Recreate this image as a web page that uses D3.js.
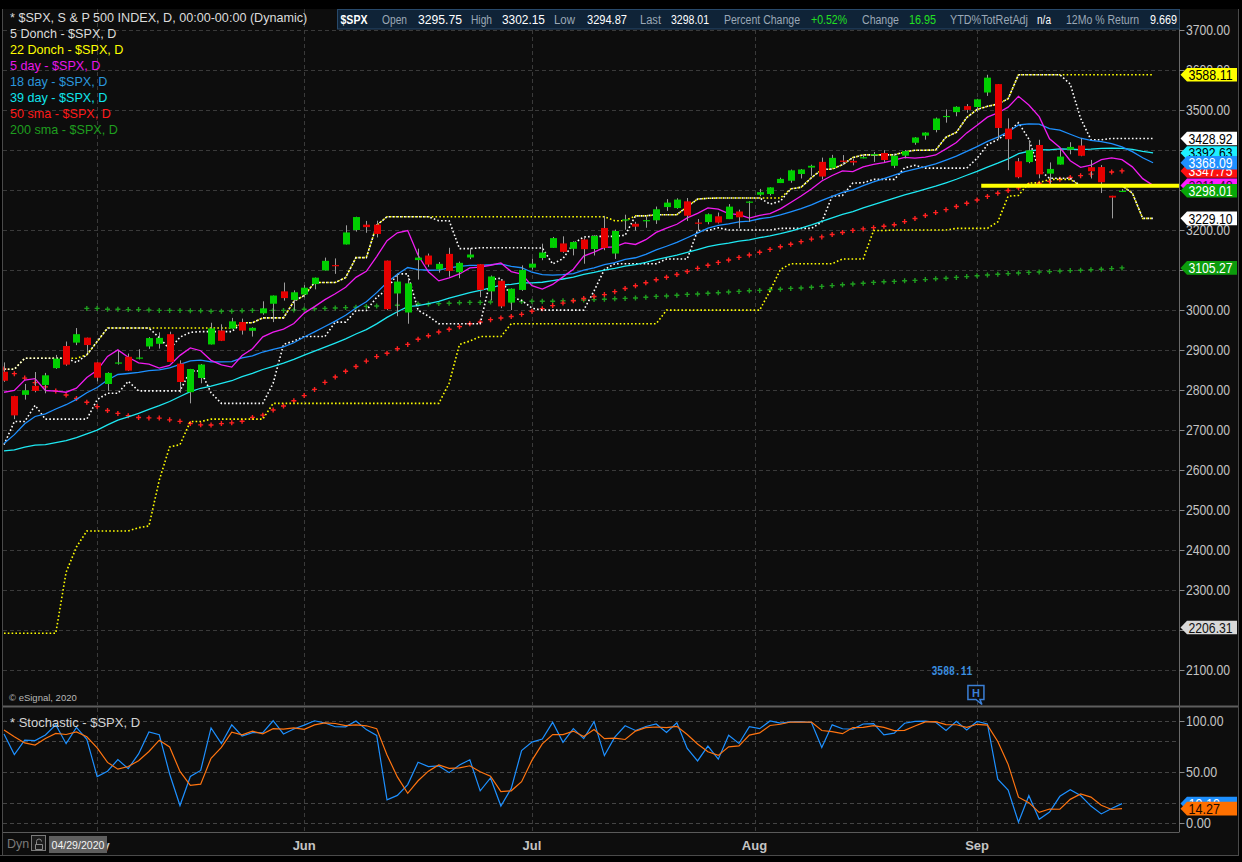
<!DOCTYPE html>
<html><head><meta charset="utf-8"><title>$SPX daily</title>
<script src="https://cdn.jsdelivr.net/npm/d3@7"></script>
<style>html,body{margin:0;padding:0;background:#000;overflow:hidden}svg{display:block}</style>
</head><body><svg id="chart" width="1242" height="862"></svg>
<script>
// ---------------- DATA ----------------
const dates = [
"2020-04-20","2020-04-21","2020-04-22","2020-04-23","2020-04-24","2020-04-27","2020-04-28","2020-04-29","2020-04-30",
"2020-05-01","2020-05-04","2020-05-05","2020-05-06","2020-05-07","2020-05-08","2020-05-11","2020-05-12","2020-05-13","2020-05-14","2020-05-15","2020-05-18","2020-05-19","2020-05-20","2020-05-21","2020-05-22","2020-05-26","2020-05-27","2020-05-28","2020-05-29",
"2020-06-01","2020-06-02","2020-06-03","2020-06-04","2020-06-05","2020-06-08","2020-06-09","2020-06-10","2020-06-11","2020-06-12","2020-06-15","2020-06-16","2020-06-17","2020-06-18","2020-06-19","2020-06-22","2020-06-23","2020-06-24","2020-06-25","2020-06-26","2020-06-29","2020-06-30",
"2020-07-01","2020-07-02","2020-07-06","2020-07-07","2020-07-08","2020-07-09","2020-07-10","2020-07-13","2020-07-14","2020-07-15","2020-07-16","2020-07-17","2020-07-20","2020-07-21","2020-07-22","2020-07-23","2020-07-24","2020-07-27","2020-07-28","2020-07-29","2020-07-30","2020-07-31",
"2020-08-03","2020-08-04","2020-08-05","2020-08-06","2020-08-07","2020-08-10","2020-08-11","2020-08-12","2020-08-13","2020-08-14","2020-08-17","2020-08-18","2020-08-19","2020-08-20","2020-08-21","2020-08-24","2020-08-25","2020-08-26","2020-08-27","2020-08-28","2020-08-31",
"2020-09-01","2020-09-02","2020-09-03","2020-09-04","2020-09-08","2020-09-09","2020-09-10","2020-09-11","2020-09-14","2020-09-15","2020-09-16","2020-09-17","2020-09-18","2020-09-21","2020-09-22"];

const opens = [
2845.62,2784.81,2787.89,2810.42,2812.64,2854.65,2909.96,2918.46,2930.91,
2869.09,2815.01,2868.88,2883.14,2878.26,2908.83,2915.46,2939.50,2865.86,2794.54,2829.95,2913.86,2948.59,2953.63,2969.95,2948.05,3004.08,3015.65,3046.61,3025.17,
3038.78,3064.78,3098.90,3111.56,3163.84,3199.92,3213.32,3213.42,3123.53,3071.04,2993.76,3131.00,3136.13,3101.64,3140.29,3094.42,3138.70,3114.40,3046.60,3073.20,3018.59,3050.20,
3105.92,3143.64,3155.29,3166.44,3153.07,3176.17,3152.47,3205.08,3141.11,3225.98,3208.36,3224.21,3224.29,3268.52,3254.86,3271.64,3218.58,3219.84,3234.27,3227.22,3231.76,3270.45,
3288.26,3289.92,3317.37,3323.17,3340.05,3356.04,3370.34,3355.46,3372.95,3368.66,3380.86,3387.04,3392.51,3360.48,3386.01,3418.09,3435.95,3449.97,3485.14,3494.69,3509.73,
3507.44,3543.76,3564.74,3453.60,3371.88,3369.82,3412.56,3352.70,3363.56,3407.73,3411.23,3346.86,3357.38,3285.57,3295.75];

const highs = [
2868.98,2785.54,2815.10,2844.90,2842.71,2887.72,2921.15,2954.86,2930.91,
2869.09,2844.24,2898.23,2891.11,2901.92,2932.16,2944.25,2945.82,2874.14,2852.80,2865.01,2968.09,2964.21,2980.29,2978.50,2956.76,3021.72,3036.25,3068.67,3049.17,
3062.18,3081.07,3130.94,3128.91,3211.72,3233.13,3222.71,3223.27,3123.53,3088.42,3079.76,3153.45,3141.16,3120.00,3155.53,3120.92,3154.90,3115.01,3086.25,3073.73,3053.89,3111.51,
3128.44,3165.81,3182.59,3184.15,3171.80,3179.78,3186.82,3235.32,3200.95,3238.28,3220.39,3233.52,3258.61,3277.29,3279.32,3279.99,3227.26,3241.43,3243.72,3264.74,3250.92,3272.17,
3302.73,3306.84,3330.77,3351.03,3352.54,3363.29,3381.01,3387.89,3387.24,3378.51,3387.59,3395.06,3399.54,3390.80,3399.96,3432.09,3444.21,3481.07,3501.38,3509.23,3514.77,
3528.03,3588.11,3564.85,3479.15,3379.97,3424.77,3425.55,3368.95,3402.93,3419.48,3428.92,3375.17,3362.27,3285.57,3302.15];

const lows = [
2820.43,2727.10,2775.95,2794.26,2791.76,2852.89,2860.71,2912.16,2892.47,
2821.61,2797.85,2863.55,2847.65,2876.48,2902.88,2903.44,2869.59,2793.15,2766.64,2816.78,2913.86,2922.35,2953.63,2938.57,2933.59,2988.17,2969.75,3023.40,2998.61,
3031.54,3051.64,3098.90,3090.41,3163.84,3196.00,3193.11,3181.49,2999.49,2984.47,2965.66,3076.06,3108.03,3093.51,3083.11,3079.39,3127.12,3032.13,3024.01,3004.63,2999.74,3047.83,
3101.17,3124.52,3155.29,3142.93,3136.53,3115.70,3136.22,3149.43,3127.66,3200.76,3198.59,3205.65,3215.16,3247.77,3253.10,3222.66,3200.05,3214.25,3216.17,3227.22,3204.13,3220.26,
3284.53,3286.37,3317.37,3318.14,3328.72,3335.44,3326.44,3355.46,3363.35,3361.64,3379.22,3370.15,3369.66,3354.69,3379.31,3413.13,3425.84,3444.15,3468.35,3484.32,3493.25,
3494.60,3535.23,3427.41,3349.63,3329.27,3366.84,3329.25,3310.47,3363.56,3389.25,3384.45,3328.82,3292.40,3229.10,3294.87];

const closes = [
2823.16,2736.56,2799.31,2797.80,2836.74,2878.48,2863.39,2939.51,2912.43,
2830.71,2842.74,2868.44,2848.42,2881.19,2929.80,2930.32,2870.12,2820.00,2852.50,2863.70,2953.91,2922.94,2971.61,2948.51,2955.45,2991.77,3036.13,3029.73,3044.31,
3055.73,3080.82,3122.87,3112.35,3193.93,3232.39,3207.18,3190.14,3002.10,3041.31,3066.59,3124.74,3113.49,3115.34,3097.74,3117.86,3131.29,3050.33,3083.76,3009.05,3053.24,3100.29,
3115.86,3130.01,3179.72,3145.32,3169.94,3152.05,3185.04,3155.22,3197.52,3226.56,3215.57,3224.73,3251.84,3257.30,3276.02,3235.66,3215.63,3239.41,3218.44,3258.44,3246.22,3271.12,
3294.61,3306.51,3327.77,3349.16,3351.28,3360.47,3333.69,3380.35,3373.43,3372.85,3381.99,3389.78,3374.85,3385.51,3397.16,3431.28,3443.62,3478.73,3484.55,3508.01,3500.31,
3526.65,3580.84,3455.06,3426.96,3331.84,3398.96,3339.19,3340.97,3383.54,3401.20,3385.49,3357.01,3319.47,3281.06,3298.01];

// bars before the visible window (needed by the indicators' look-back)
const preCloses = [ // 2020-02-07 .. 2020-04-17
3327.71,3352.09,3357.75,3379.45,3373.94,3380.16,3370.29,3386.15,3373.23,3337.75,3225.89,3128.21,3116.39,2978.76,2954.22,
3090.23,3003.37,3130.12,3023.94,2972.37,2746.56,2882.23,2741.38,2480.64,2711.02,2386.13,2529.19,2398.10,2409.39,2304.92,2237.40,2447.33,2475.56,2630.07,2541.47,2626.65,2584.59,
2470.50,2526.90,2488.65,2663.68,2659.41,2749.98,2789.82,2761.63,2846.06,2783.36,2799.55,2874.56];
const preHighs = [ // 2020-03-16 .. 2020-04-17
2562.98,2553.93,2453.57,2466.97,2453.01,2300.73,2449.71,2571.42,2637.01,2615.91,2631.80,2641.39,
2522.75,2533.22,2538.18,2676.85,2756.89,2760.75,2818.57,2782.46,2851.85,2801.88,2806.51,2879.22];
const preLows = [
2380.94,2367.04,2280.52,2319.78,2295.56,2191.86,2344.44,2407.53,2500.72,2520.02,2545.28,2571.15,
2447.49,2455.79,2459.96,2574.57,2657.67,2663.30,2762.36,2721.17,2805.10,2761.54,2764.32,2830.88];

// 200-day SMA (first plotted on 2020-04-30)
const sma200Start = "2020-04-30";
const sma200 = [
3004,3004,3002,3002,3001,3001,3000,2999,2999,2999,2998,2998,2997,2997,2997,2998,2999,2999,2999,2999,
3000,3002,3003,3004,3005,3006,3007,3009,3010,3011,3012,3013,3015,3015,3016,3017,3018,3019,3019,3020,
3020,3021,3021,3022,3022,3022,3023,3024,3025,3026,3027,3028,3029,3030,3032,3034,3035,3037,3039,3040,
3042,3043,3045,3046.5,3048,3049,3050.5,3052,3054,3055,3057,3059,3061,3063,3065,3067,3069,3070.5,3071.5,3073,
3074,3076,3078,3079.5,3081.5,3083.5,3085.5,3087.5,3089.5,3091,3092.5,3094,3095,3096,3097.5,3098.5,3099.5,3100.5,3102,3103.5,3105.27];

const priceTicks = [3700,3600,3500,3400,3300,3200,3100,3000,2900,2800,2700,2600,2500,2400,2300,2200,2100];
const stochLabelTicks = [100,50,0];
const stochGridTicks = [100,80,50,20,0];
const monthNames = ["Jan","Feb","Mar","Apr","May","Jun","Jul","Aug","Sep","Oct","Nov","Dec"];

const legendTexts = ["* $SPX, S & P 500 INDEX, D, 00:00-00:00 (Dynamic)","5 Donch - $SPX, D","22 Donch - $SPX, D","5 day - $SPX, D","18 day - $SPX, D","39 day - $SPX, D","50 sma - $SPX, D","200 sma - $SPX, D"];
const headerLabels = ["Open","High","Low","Last","Percent Change","Change","YTD%TotRetAdj","12Mo % Return"];
const headerValues = ["3295.75","3302.15","3294.87","3298.01","+0.52%","16.95","n/a","9.669"];
const tagValues = {h22:3588.11, h5:3428.92, w39:3392.63, w18:3368.09, sma50:3347.75, w5:3311.48, last:3298.01, l22:3229.10, sma200:3105.27, low:2206.31};
const stochTagValues = {k:19.19, d:14.27};
const supportLine = {price:3310.47, from:"2020-09-01"};
const highMarker = {value:"3588.11", date:"2020-09-02"};
const cursorDate = "04/29/2020";

// ---------------- SETUP ----------------
const FONT = '"Liberation Sans", Arial, Helvetica, sans-serif';
const svg = d3.select("#chart").style("font-family", FONT);
const N = dates.length, SHIFT = 3, NOUT = N + SHIFT;
const PL = 3, PR = 1179.5, MT = 9, MB = 705, ST = 708, SB = 832;

const x = d3.scaleLinear().domain([0, N - 1]).range([4, 1122]);
const y = d3.scaleLinear().domain([2100, 3700]).range([670, 30]);
const ys = d3.scaleLinear().domain([0, 100]).range([823.3, 720.7]);

const NP = preCloses.length, NH = preHighs.length;
const allC = preCloses.concat(closes), allH = preHighs.concat(highs), allL = preLows.concat(lows);
const C = i => allC[i + NP], HI = i => allH[i + NH], LO = i => allL[i + NH];

function wma(n, i) { let s = 0, w = 0; for (let k = 0; k < n; k++) { s += (n - k) * C(i - k); w += n - k; } return s / w; }
const donHi = (n, i) => d3.max(d3.range(i - n + 1, i + 1), HI);
const donLo = (n, i) => d3.min(d3.range(i - n + 1, i + 1), LO);
const shifted = fn => d3.range(NOUT).map(j => ({ j, v: fn(j - SHIFT) }));
const sma = (n, i) => d3.mean(d3.range(i - n + 1, i + 1), C);
function stK(i) { const hh = donHi(14, i), ll = donLo(14, i); return 100 * (C(i) - ll) / (hh - ll); }
const stD = i => (stK(i) + stK(i - 1) + stK(i - 2)) / 3;

// background
svg.append("rect").attr("width", 1242).attr("height", 862).attr("fill", "#000");
svg.append("rect").attr("x", PL).attr("y", MT).attr("width", 1238 - PL).attr("height", 855 - MT).attr("fill", "#0d0d0d");

const defs = svg.append("defs");
defs.append("clipPath").attr("id", "cm").append("rect").attr("x", PL).attr("y", MT).attr("width", PR - PL).attr("height", MB - MT);
defs.append("clipPath").attr("id", "cs").append("rect").attr("x", PL).attr("y", ST).attr("width", PR - PL).attr("height", SB - ST);

// month ticks
const ticks = [];
dates.forEach((d, i) => {
  const m = +d.slice(5, 7), dd = +d.slice(8, 10);
  if (i > 0 && +dates[i - 1].slice(5, 7) !== m) ticks.push({ i: dd === 1 ? i : i - 0.5, label: monthNames[m - 1] });
});

const gridC = "#3a3a3a", dash = "4,3";
const main = svg.append("g").attr("clip-path", "url(#cm)");
const stp = svg.append("g").attr("clip-path", "url(#cs)");

// grids
main.selectAll("line.h").data(priceTicks).join("line").attr("x1", PL).attr("x2", PR)
  .attr("y1", d => Math.round(y(d)) + 0.5).attr("y2", d => Math.round(y(d)) + 0.5)
  .attr("stroke", gridC).attr("stroke-dasharray", dash);
main.selectAll("line.v").data(ticks).join("line").attr("y1", MT).attr("y2", MB)
  .attr("x1", d => Math.round(x(d.i)) + 0.5).attr("x2", d => Math.round(x(d.i)) + 0.5)
  .attr("stroke", gridC).attr("stroke-dasharray", dash);
stp.selectAll("line.h").data(stochGridTicks).join("line").attr("x1", PL).attr("x2", PR)
  .attr("y1", d => Math.round(ys(d)) + 0.5).attr("y2", d => Math.round(ys(d)) + 0.5)
  .attr("stroke", "#444").attr("stroke-dasharray", dash);
stp.selectAll("line.v").data(ticks).join("line").attr("y1", ST).attr("y2", SB)
  .attr("x1", d => Math.round(x(d.i)) + 0.5).attr("x2", d => Math.round(x(d.i)) + 0.5)
  .attr("stroke", gridC).attr("stroke-dasharray", dash);

// plus markers
function plusMarks(g, pts, color) {
  g.append("g").selectAll("path").data(pts).join("path")
    .attr("d", p => `M${x(p.i) - 2.5},${y(p.v)}h5M${x(p.i)},${y(p.v) - 2.5}v5`)
    .attr("stroke", color).attr("stroke-width", 1.4).attr("fill", "none");
}
const s200Start = dates.indexOf(sma200Start);
plusMarks(main, sma200.map((v, k) => ({ i: s200Start + k, v })), "#1f9e1f");
plusMarks(main, d3.range(N).map(i => ({ i, v: sma(50, i) })), "#ff2020");

// Donchian channels (dotted, displaced)
const ln = d3.line().x(p => x(p.j)).y(p => y(p.v));
function dotted(data, color) {
  main.append("path").attr("d", ln(data)).attr("fill", "none").attr("stroke", color)
    .attr("stroke-width", 1.6).attr("stroke-dasharray", "1.6,2.2");
}
dotted(shifted(i => donHi(22, i)), "#ffff00");
dotted(shifted(i => donLo(22, i)), "#ffff00");
dotted(shifted(i => donHi(5, i)), "#ffffff");
dotted(shifted(i => donLo(5, i)), "#ffffff");

// displaced weighted MAs
function solid(data, color) {
  main.append("path").attr("d", ln(data)).attr("fill", "none").attr("stroke", color).attr("stroke-width", 1.3);
}
solid(shifted(i => wma(39, i)), "#1ee8f2");
solid(shifted(i => wma(18, i)), "#1e90ff");
solid(shifted(i => wma(5, i)), "#f01cf0");

// candles
const cd = dates.map((d, i) => ({ i, o: opens[i], h: highs[i], l: lows[i], c: closes[i], up: closes[i] >= C(i - 1) }));
const cg = main.append("g");
cg.selectAll("line").data(cd).join("line")
  .attr("x1", d => Math.round(x(d.i)) + 0.5).attr("x2", d => Math.round(x(d.i)) + 0.5)
  .attr("y1", d => y(d.h)).attr("y2", d => y(d.l)).attr("stroke", "#9c9c9c").attr("stroke-width", 1);
cg.selectAll("rect").data(cd).join("rect")
  .attr("x", d => Math.round(x(d.i)) - 3).attr("width", 7)
  .attr("y", d => y(Math.max(d.o, d.c))).attr("height", d => Math.max(1.2, Math.abs(y(d.o) - y(d.c))))
  .attr("fill", d => d.up ? "#00cf00" : "#e60000");

// support line
main.append("line").attr("x1", x(dates.indexOf(supportLine.from) + 0.4)).attr("x2", PR)
  .attr("y1", y(supportLine.price)).attr("y2", y(supportLine.price)).attr("stroke", "#ffff00").attr("stroke-width", 4);

// stochastic
const ls = d3.line().x(p => x(p.i)).y(p => ys(p.v));
stp.append("path").attr("d", ls(d3.range(N).map(i => ({ i, v: stK(i) })))).attr("fill", "none").attr("stroke", "#1e90ff").attr("stroke-width", 1.2);
stp.append("path").attr("d", ls(d3.range(N).map(i => ({ i, v: stD(i) })))).attr("fill", "none").attr("stroke", "#ff7410").attr("stroke-width", 1.2);

// frame lines
function hline(x1, x2, yy, c, w) { svg.append("line").attr("x1", x1).attr("x2", x2).attr("y1", yy).attr("y2", yy).attr("stroke", c).attr("stroke-width", w || 1); }
function vline(xx, y1, y2, c, w) { svg.append("line").attr("x1", xx).attr("x2", xx).attr("y1", y1).attr("y2", y2).attr("stroke", c).attr("stroke-width", w || 1); }
vline(2.5, MT, 855, "#4a4a4a");
vline(PR, MT, SB, "#6a6a6a");
vline(1238.5, MT, 855, "#4a4a4a");
hline(PL, 1238, 706.5, "#5e5e5e", 2);
hline(PL, PR, 832.5, "#5a5a5a");
hline(0, 1239, 855.5, "#4a4a4a");

// right axis labels (labels that sit fully under a value tag are not shown, as in the reference)
const axC = "#c4c4c4";
const tagYs = Object.values(tagValues).map(v => y(v));
priceTicks.forEach(v => {
  hline(PR, PR + 5, Math.round(y(v)) + 0.5, "#8a8a8a");
  if (tagYs.some(t => Math.abs(t - y(v)) < 4)) return;
  svg.append("text").attr("x", 1186).attr("y", y(v) + 5).attr("font-size", 14).attr("fill", axC)
    .attr("textLength", 44).attr("lengthAdjust", "spacingAndGlyphs").text(v.toFixed(2));
});
stochLabelTicks.forEach(v => {
  hline(PR, PR + 5, Math.round(ys(v)) + 0.5, "#8a8a8a");
  const s = v.toFixed(2);
  svg.append("text").attr("x", 1186).attr("y", ys(v) + 5).attr("font-size", 14).attr("fill", axC)
    .attr("textLength", s.length * 6.25).attr("lengthAdjust", "spacingAndGlyphs").text(s);
});

// value tags
function tag(yy, val, bg, fg) {
  svg.append("path").attr("d", `M1180.5,${yy}L1187,${yy - 6.8}H1237V${yy + 6.8}H1187Z`).attr("fill", bg);
  const s = val.toFixed(2);
  svg.append("text").attr("x", 1188.5).attr("y", yy + 5.2).attr("font-size", 14).attr("fill", fg)
    .attr("textLength", s.length * 6.3).attr("lengthAdjust", "spacingAndGlyphs").text(s);
}
const T = tagValues;
tag(y(T.h22), T.h22, "#ffff00", "#000");
tag(y(T.h5), T.h5, "#ffffff", "#000");
tag(y(T.l22), T.l22, "#ffffff", "#000");
tag(y(T.sma200), T.sma200, "#0c9c0c", "#fff");
tag(y(T.low), T.low, "#d8d8d8", "#111");
tag(y(T.w5), T.w5, "#ff1cff", "#400040");
tag(y(T.sma50), T.sma50, "#ff1010", "#fff");
tag(y(T.w39), T.w39, "#1ef0ff", "#000");
tag(y(T.w18), T.w18, "#1e90ff", "#fff");
tag(y(T.last), T.last, "#08a808", "#fff");
tag(ys(stochTagValues.k), stochTagValues.k, "#1e90ff", "#fff");
tag(ys(stochTagValues.d), stochTagValues.d, "#ff7000", "#1a0800");

// legend
const legC = ["#dcdcdc", "#dcdcdc", "#ffff00", "#e818e8", "#2a96dc", "#10e4ee", "#ff1a1a", "#1f9e1f"];
legendTexts.forEach((t, k) => {
  svg.append("text").attr("x", 10).attr("y", 22 + k * 15.95).attr("font-size", 12.6).attr("fill", legC[k]).text(t);
});

// header bar
svg.append("rect").attr("x", 337.5).attr("y", 9.5).attr("width", 842).attr("height", 19.5)
  .attr("fill", "#0f2337").attr("stroke", "#28496a");
svg.append("text").attr("x", 340.5).attr("y", 24).attr("font-size", 12).attr("font-weight", "bold").attr("fill", "#fff")
  .attr("textLength", 27).attr("lengthAdjust", "spacingAndGlyphs").text("$SPX");
const hlX = [382, 471, 554, 640, 724, 862, 950, 1066], hlW = [25, 21, 21, 21, 76, 37, 78, 73];
const hvX = [418, 502, 587, 671, 811, 909, 1037, 1150], hvW = [44, 43, 40, 38, 36, 27, 14, 27];
const hvC = ["#fff", "#fff", "#fff", "#fff", "#22e022", "#22e022", "#fff", "#fff"];
headerLabels.forEach((t, k) => {
  svg.append("text").attr("x", hlX[k]).attr("y", 24).attr("font-size", 12).attr("fill", "#9ba8b6")
    .attr("textLength", hlW[k]).attr("lengthAdjust", "spacingAndGlyphs").text(t);
  svg.append("text").attr("x", hvX[k]).attr("y", 24).attr("font-size", 12).attr("fill", hvC[k])
    .attr("textLength", hvW[k]).attr("lengthAdjust", "spacingAndGlyphs").text(headerValues[k]);
});

// misc texts
svg.append("text").attr("x", 9).attr("y", 701).attr("font-size", 9.5).attr("fill", "#b8b8b8").text("© eSignal, 2020");
svg.append("text").attr("x", 10).attr("y", 727).attr("font-size", 13).attr("fill", "#d4d4d4").text("* Stochastic - $SPX, D");

// high marker
const hmI = dates.indexOf(highMarker.date);
const hmX = x(hmI) - 11;
svg.append("text").attr("x", hmX - 45).attr("y", 675).attr("font-family", '"Liberation Mono", "DejaVu Sans Mono", monospace')
  .attr("font-size", 12).attr("font-weight", "bold").attr("fill", "#3b8fe0")
  .attr("textLength", 41).attr("lengthAdjust", "spacingAndGlyphs").text(highMarker.value);
svg.append("path").attr("d", `M${hmX - 8.5},685.5h16v14h-4l2,5l-6,-5h-8z`).attr("fill", "#0d0d0d").attr("stroke", "#3b7fd6").attr("stroke-width", 1.5);
svg.append("text").attr("x", hmX - 0.5).attr("y", 697).attr("text-anchor", "middle").attr("font-size", 11).attr("font-weight", "bold").attr("fill", "#3b7fd6").text("H");

// x-axis labels
ticks.forEach(t => {
  svg.append("text").attr("x", x(t.i)).attr("y", 849.5).attr("text-anchor", "middle").attr("font-size", 13)
    .attr("font-weight", "bold").attr("fill", "#c4c4c4").text(t.label);
});
svg.append("text").attr("x", 7).attr("y", 848).attr("font-size", 12.5).attr("fill", "#7a7a7a").text("Dyn");
svg.append("rect").attr("x", 31.5).attr("y", 835.5).attr("width", 14).attr("height", 15).attr("fill", "#1c1c1c").attr("stroke", "#7a7a7a");
svg.append("path").attr("d", "M35.5,844.5h7v5h-7zM36.5,844.5v-3a2.5,2.5 0 0 1 5,0").attr("fill", "none").attr("stroke", "#8a8a8a");
svg.append("rect").attr("x", 49).attr("y", 836).attr("width", 58).attr("height", 17).attr("fill", "#5e5e5e");
svg.append("text").attr("x", 51.5).attr("y", 849).attr("font-size", 11.5).attr("fill", "#f4f4f4")
  .attr("textLength", 53).attr("lengthAdjust", "spacingAndGlyphs").text(cursorDate);
</script></body></html>
